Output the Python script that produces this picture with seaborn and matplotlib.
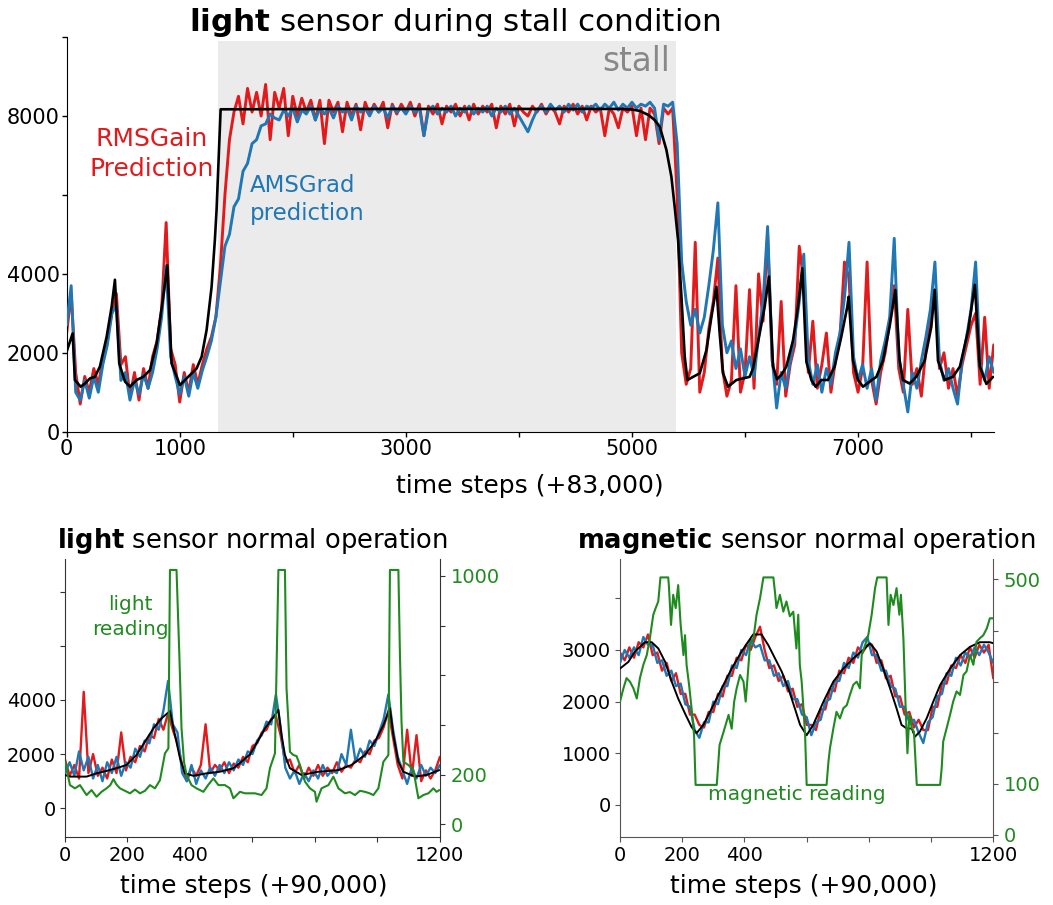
import numpy as np
import matplotlib
matplotlib.use("Agg")
import matplotlib.pyplot as plt
import seaborn as sns

sns.set_style("ticks")
plt.rcParams.update({
    "font.family": ["DejaVu Sans"],
    "text.color": "black",
    "axes.labelcolor": "black",
    "xtick.color": "black",
    "ytick.color": "black",
    "axes.edgecolor": "black",
    "mathtext.fontset": "dejavusans",
})

RED = "#e31a1c"
BLUE = "#1f77b4"
GREEN = "#1f8a1f"

# ---------------- top panel: light sensor during stall ----------------
top_step = 40
top_rmsgain = [
    2500, 3500, 1500, 700, 1400, 1000, 1600, 1200, 1800, 2400,
    3000, 3500, 1700, 1900, 900, 1500, 800, 1600, 1100, 1900,
    2300, 3100, 5300, 2100, 1700, 750, 1500, 1000, 1700, 1200,
    1700, 2100, 2400, 2900, 4200, 6000, 7400, 8100, 8500, 7800,
    8700, 8100, 8600, 8000, 8800, 7400, 8600, 8200, 8700, 7500,
    8500, 8000, 8450, 8100, 8400, 7900, 8400, 7300, 8400, 8100,
    8350, 7600, 8350, 8000, 8300, 7650, 8350, 8050, 8300, 8100,
    8350, 7700, 8300, 8050, 8300, 8100, 8350, 8000, 8300, 7500,
    8250, 8050, 8300, 7800, 8250, 8100, 8300, 8000, 8250, 7900,
    8300, 8050, 8250, 8100, 8300, 7700, 8250, 8050, 8300, 7750,
    8250, 8100, 8000, 8250, 8100, 8300, 8050, 8250, 8100, 7800,
    8250, 8100, 8300, 8050, 8250, 7900, 8250, 8100, 8200, 7500,
    8200, 8050, 7700, 8200, 8100, 8250, 7500, 8200, 7400, 8200,
    8050, 7300, 8200, 8050, 8200, 6000, 2000, 1200, 1600, 4800,
    1000, 1500, 2600, 3300, 4400, 1600, 900, 1300, 3700, 1000,
    1500, 3600, 1100, 4000, 2800, 5000, 1800, 1200, 3300, 900,
    1700, 2200, 4700, 3800, 1500, 2800, 1100, 1700, 2500, 1000,
    1800, 2400, 4300, 3900, 1500, 1000, 1600, 4300, 1300, 700,
    1500, 2000, 2800, 3700, 1600, 1000, 3100, 1200, 1600, 900,
    2100, 2800, 3600, 1600, 2000, 1100, 1600, 900, 1700, 2200,
    2700, 3000, 1200, 2900, 1100, 2200,
]
top_amsgrad = [
    2700, 3700, 1000, 800, 1300, 850, 1400, 1000, 1700, 2200,
    3000, 3200, 1300, 1500, 800, 1300, 950, 1450, 1100, 1500,
    2100, 2900, 4200, 1900, 1400, 950, 1400, 900, 1500, 1100,
    1550, 1900, 2300, 2900, 3800, 4700, 5000, 5700, 5900, 6600,
    6800, 7300, 7400, 7750, 7800, 8050, 7950, 7900, 8150, 8000,
    8200, 7850, 8150, 8050, 8250, 7900, 8200, 8050, 8200, 7950,
    8250, 8100, 8200, 7900, 8250, 8100, 8200, 8000, 8250, 8100,
    8200, 7950, 8250, 8100, 8200, 8050, 8250, 8100, 8200, 7500,
    8150, 8250, 8050, 8200, 8100, 8250, 8000, 8200, 8100, 8250,
    8050, 8200, 8100, 8250, 8000, 8200, 8100, 8250, 8050, 8200,
    8000, 7800, 7600, 7900, 8150, 8250, 8100, 8300, 8150, 8250,
    8100, 8300, 8150, 8300, 8100, 8250, 8200, 8300, 8150, 8300,
    8200, 8350, 8150, 8300, 8200, 8350, 8200, 8300, 8250, 8350,
    8200, 7400, 8300, 8250, 8350, 7300, 4300, 3300, 2700, 3100,
    2500, 2900, 3700, 4600, 5800, 2700, 2000, 2300, 1600, 2100,
    1400, 1900, 1400, 2400, 3300, 5200, 1900, 600, 1500, 1100,
    1800, 2400, 3300, 4500, 1800, 1200, 1700, 1000, 1600, 1200,
    2000, 2500, 3400, 4800, 1900, 1300, 1700, 1100, 1600, 800,
    1800, 2300, 2900, 4900, 1900, 1200, 500, 1500, 1100, 1800,
    2400, 3100, 4300, 1800, 1300, 1600, 1100, 700, 1800, 2400,
    3100, 4300, 1700, 1300, 1900, 1500,
]
top_truth_t = [
    0, 53, 73, 124, 162, 206, 250, 294, 354, 398,
    427, 465, 516, 560, 619, 678, 737, 796, 854, 890,
    928, 1002, 1075, 1149, 1194, 1238, 1282, 1311, 1326, 1362,
    2500, 4900, 5000, 5069, 5150, 5200, 5246, 5305, 5349, 5378,
    5408, 5438, 5467, 5491, 5541, 5600, 5659, 5703, 5747, 5776,
    5806, 5850, 5924, 5982, 6041, 6071, 6130, 6174, 6212, 6248,
    6283, 6322, 6366, 6425, 6469, 6507, 6543, 6587, 6625, 6676,
    6734, 6793, 6852, 6905, 6917, 6955, 6999, 7044, 7103, 7162,
    7220, 7279, 7330, 7368, 7397, 7456, 7515, 7589, 7648, 7678,
    7707, 7766, 7839, 7901, 7974, 8033, 8077, 8135, 8194,
]
top_truth_v = [
    2030, 2490, 1310, 1140, 1220, 1350, 1390, 1650, 2410, 3170,
    3850, 1730, 1270, 1140, 1310, 1390, 1560, 2240, 3420, 4220,
    1730, 1180, 1390, 1600, 1900, 2580, 3670, 4860, 5620, 8170,
    8180, 8180, 8165, 8130, 8020, 7900, 7730, 7140, 6460, 5700,
    4860, 3420, 1900, 1310, 1390, 1480, 2070, 2910, 3670, 2490,
    1480, 1140, 1310, 1350, 1390, 1600, 2490, 3170, 3930, 1650,
    1330, 1440, 1650, 2320, 3170, 4140, 1770, 1310, 1140, 1310,
    1310, 1650, 2410, 3170, 3420, 1800, 1310, 1140, 1270, 1390,
    1800, 2660, 3590, 1800, 1310, 1220, 1390, 1800, 2660, 3590,
    1800, 1310, 1390, 1650, 2570, 3720, 1650, 1210, 1390,
]
stall_span = (1340, 5390)
top_xticks = [0, 1000, 2000, 3000, 4000, 5000, 6000, 7000, 8000]
top_xticklabels = ["0", "1000", "", "3000", "", "5000", "", "7000", ""]
top_yticks = [0, 2000, 4000, 6000, 8000, 10000]
top_yticklabels = ["0", "2000", "4000", "", "8000", ""]

# ---------------- bottom-left: light sensor normal operation ----------------
bottom_step = 15
light_rmsgain = [
    1800, 1200, 1600, 1100, 4300, 1300, 2000, 1200, 1500, 1100,
    1800, 1300, 2800, 1400, 1900, 1700, 2300, 2100, 2700, 2600,
    3300, 2900, 3500, 2900, 2400, 1600, 1000, 1500, 1200, 1600,
    3100, 1300, 1600, 1400, 1700, 1300, 1650, 1500, 1900, 1700,
    2300, 2400, 2800, 2900, 3300, 3400, 2700, 1700, 1800, 1300,
    1600, 1100, 1500, 1200, 1600, 1200, 1500, 1300, 1700, 1350,
    1600, 1500, 1800, 1700, 2100, 2000, 2500, 2600, 3000, 3600,
    2600, 1600, 1100, 2900, 1200, 2700, 1000, 1400, 1100, 1400, 1900,
]
light_amsgrad = [
    1300, 1700, 1200, 2100, 1400, 1900, 1100, 1600, 1000, 1700,
    1300, 1900, 1200, 1700, 1500, 2200, 1900, 2500, 2400, 3100,
    2900, 3600, 4700, 3100, 2800, 1300, 1000, 1600, 900, 1400,
    1100, 1500, 1200, 1600, 1300, 1700, 1400, 1800, 1600, 2100,
    2000, 2500, 2700, 3200, 3100, 4200, 3000, 1500, 1100, 1400,
    900, 1300, 1000, 1400, 1100, 1600, 1200, 1400, 1300, 2000,
    1600, 2900, 1700, 2200, 1900, 2500, 2300, 2800, 3300, 4200,
    2900, 1900, 1400, 900, 1500, 1100, 1600, 1200, 1500, 1300, 1600,
]
light_truth_t = [
    0, 16, 69, 101, 133, 165, 197, 229, 256, 283,
    309, 336, 352, 368, 384, 411, 453, 496, 539, 565,
    592, 608, 640, 672, 683, 693, 704, 720, 757, 811,
    875, 917, 960, 992, 1019, 1040, 1051, 1067, 1083, 1120,
    1157, 1198,
]
light_truth_v = [
    1230, 1170, 1170, 1290, 1380, 1480, 1600, 1970, 2460, 2950,
    3320, 3590, 2700, 1850, 1290, 1200, 1290, 1350, 1480, 1720,
    1990, 2300, 2950, 3450, 3630, 2700, 1970, 1480, 1230, 1350,
    1410, 1600, 1970, 2460, 3070, 3690, 2700, 1720, 1350, 1170,
    1230, 1410,
]
light_reading_t = [
    0, 16, 32, 48, 69, 85, 101, 117, 133, 145,
    155, 165, 176, 192, 208, 224, 240, 256, 272, 288,
    304, 320, 331, 336, 357, 366, 373, 381, 389, 405,
    421, 443, 459, 475, 491, 512, 528, 539, 560, 576,
    592, 608, 629, 645, 656, 672, 683, 704, 709, 715,
    720, 731, 741, 752, 768, 784, 800, 805, 821, 843,
    859, 875, 896, 912, 928, 944, 960, 975, 987, 1003,
    1019, 1035, 1040, 1067, 1072, 1077, 1083, 1099, 1115, 1131,
    1147, 1163, 1179, 1189, 1198,
]
light_reading_v = [
    252, 158, 145, 158, 118, 138, 111, 131, 145, 158,
    182, 160, 145, 135, 125, 140, 125, 135, 158, 145,
    178, 286, 306, 1024, 1024, 682, 387, 252, 199, 158,
    145, 131, 160, 185, 158, 158, 145, 105, 131, 125,
    125, 125, 118, 145, 226, 286, 1024, 1024, 548, 413,
    292, 279, 275, 239, 172, 145, 131, 91, 145, 158,
    192, 145, 125, 130, 118, 135, 131, 125, 118, 145,
    252, 279, 1024, 1024, 682, 413, 252, 239, 219, 105,
    118, 125, 145, 131, 138,
]
light_yticks = [0, 2000, 4000, 6000, 8000]
light_yticklabels = ["0", "2000", "4000", "", ""]
light_rticks = [0, 200, 400, 600, 800, 1000]
light_rticklabels = ["0", "200", "", "", "", "1000"]

# ---------------- bottom-right: magnetic sensor normal operation ----------------
mag_rmsgain = [
    2950, 2800, 3050, 2850, 3150, 3050, 3300, 2900, 2950, 2600,
    2750, 2400, 2550, 2150, 2150, 1750, 1750, 1550, 1500, 1800,
    1800, 2150, 2100, 2500, 2500, 2850, 2800, 3100, 3000, 3250,
    3450, 3000, 2650, 2700, 2400, 2500, 2200, 2250, 1900, 1950,
    1550, 1550, 1450, 1850, 1850, 2250, 2200, 2600, 2550, 2850,
    2750, 3050, 2950, 3100, 3100, 2750, 2800, 2450, 2500, 2100,
    2100, 1750, 1800, 1500, 1650, 1450, 1450, 1900, 1900, 2350,
    2350, 2700, 2650, 2900, 2750, 3050, 2850, 3100, 2950, 3100, 2450,
]
mag_amsgrad = [
    2750, 3000, 2850, 3050, 2900, 3250, 3100, 3100, 2750, 2800,
    2500, 2600, 2300, 2350, 1950, 1900, 1450, 1300, 1600, 1600,
    2000, 1950, 2300, 2300, 2700, 2650, 3000, 2900, 3200, 3050,
    3100, 2800, 2800, 2500, 2550, 2300, 2400, 2050, 2050, 1750,
    1700, 1350, 1600, 1650, 2000, 2050, 2400, 2400, 2750, 2650,
    2950, 2850, 3150, 3250, 2900, 2900, 2600, 2600, 2300, 2250,
    1900, 1900, 1600, 1650, 1400, 1200, 1600, 1700, 2100, 2150,
    2550, 2500, 2850, 2700, 2950, 2850, 3050, 2900, 3100, 2950, 2750,
]
mag_truth_t = [
    0, 27, 48, 80, 102, 123, 145, 166, 187, 209,
    230, 246, 268, 295, 327, 359, 391, 412, 428, 455,
    477, 498, 520, 541, 562, 579, 600, 621, 654, 686,
    718, 750, 782, 804, 825, 846, 868, 889, 905, 922,
    938, 948, 964, 986, 1007, 1029, 1061, 1093, 1125, 1157,
    1189, 1200,
]
mag_truth_v = [
    2640, 2770, 2970, 3150, 3150, 3030, 2770, 2390, 2060, 1770,
    1510, 1390, 1550, 1870, 2260, 2640, 2970, 3160, 3300, 3300,
    3090, 2840, 2580, 2260, 1870, 1550, 1350, 1550, 2000, 2390,
    2640, 2840, 3000, 3130, 2970, 2640, 2260, 1870, 1550, 1480,
    1480, 1320, 1420, 1680, 2000, 2320, 2640, 2900, 3060, 3150,
    3150, 3130,
]
mag_reading_t = [
    0, 11, 21, 32, 43, 54, 64, 75, 86, 96,
    107, 114, 123, 130, 155, 157, 164, 171, 179, 187,
    195, 204, 209, 214, 222, 230, 238, 243, 311, 320,
    333, 349, 359, 367, 375, 386, 397, 404, 409, 418,
    429, 439, 450, 461, 493, 498, 503, 514, 525, 535,
    546, 557, 567, 573, 578, 584, 589, 595, 600, 664,
    670, 675, 686, 696, 707, 718, 729, 739, 750, 761,
    771, 777, 788, 798, 809, 820, 827, 857, 863, 870,
    879, 889, 898, 903, 911, 919, 924, 930, 938, 945,
    954, 1029, 1034, 1039, 1050, 1061, 1071, 1082, 1093, 1104,
    1114, 1125, 1136, 1146, 1157, 1168, 1179, 1189, 1200,
]
mag_reading_v = [
    261, 287, 307, 300, 287, 267, 307, 333, 352, 385,
    431, 443, 457, 504, 504, 489, 411, 470, 444, 489,
    411, 352, 391, 333, 294, 248, 196, 98, 98, 176,
    202, 235, 208, 261, 287, 313, 300, 261, 300, 372,
    385, 431, 463, 504, 504, 476, 444, 470, 437, 457,
    428, 437, 365, 431, 333, 300, 254, 196, 98, 98,
    143, 170, 209, 241, 228, 248, 254, 274, 294, 300,
    287, 352, 372, 391, 431, 483, 504, 504, 411, 470,
    450, 483, 431, 470, 385, 235, 160, 235, 209, 202,
    98, 98, 130, 183, 209, 235, 261, 281, 274, 313,
    320, 352, 333, 378, 385, 391, 404, 424, 424,
]
mag_yticks = [0, 1000, 2000, 3000, 4000]
mag_yticklabels = ["0", "1000", "2000", "3000", ""]
mag_rticks = [0, 100, 200, 300, 400, 500]
mag_rticklabels = ["0", "100", "", "", "", "500"]

bottom_xticks = [0, 200, 400, 600, 800, 1000, 1200]
bottom_xticklabels = ["0", "200", "400", "", "", "", "1200"]


def draw(ax, x, y, color, lw, z):
    sns.lineplot(x=np.asarray(x, dtype=float), y=np.asarray(y, dtype=float), ax=ax,
                 color=color, linewidth=lw, estimator=None, legend=False, zorder=z)


fig = plt.figure(figsize=(10.53, 9.05), dpi=100)

# ---- top ----
ax = fig.add_axes([0.0633, 0.523, 0.8804, 0.436])
ax.axvspan(stall_span[0], stall_span[1], ymin=0, ymax=0.99, color="#ebebeb", lw=0, zorder=0)
t_top = np.arange(len(top_rmsgain)) * top_step
draw(ax, t_top, top_rmsgain, RED, 2.1, 2)
draw(ax, t_top, top_amsgrad, BLUE, 2.1, 3)
draw(ax, top_truth_t, top_truth_v, "black", 1.9, 4)
ax.set_xlim(0, 8200)
ax.set_ylim(0, 10000)
ax.set_xticks(top_xticks)
ax.set_xticklabels(top_xticklabels)
ax.set_yticks(top_yticks)
ax.set_yticklabels(top_yticklabels)
ax.tick_params(labelsize=15, length=3.6, width=1.0, pad=1.5)
ax.set_xlabel("")
ax.set_ylabel("")
sns.despine(ax=ax)
ax.text(5340, 9370, "stall", ha="right", va="center", color="#888888", fontsize=23.5)
ax.text(754, 7037, "RMSGain\nPrediction", ha="center", va="center", color=RED,
        fontsize=18, linespacing=1.32)
ax.text(1621, 5885, "AMSGrad\nprediction", ha="left", va="center", color=BLUE,
        fontsize=16.5, linespacing=1.27)
fig.text(0.432, 0.9652, r"$\bf{light}$ sensor during stall condition",
         ha="center", va="baseline", fontsize=22.4)
fig.text(530 / 1053, (905 - 493) / 905, "time steps (+83,000)",
         ha="center", va="baseline", fontsize=18)

# ---- bottom panels ----
def bottom_panel(rect, red, blue, truth_t, truth_v, read_t, read_v, ylim, rlim,
                 yticks, yticklabels, rticks, rticklabels, spine_col):
    a = fig.add_axes(rect)
    b = a.twinx()
    tb = np.arange(len(red)) * bottom_step
    draw(a, tb, red, RED, 1.7, 2)
    draw(a, tb, blue, BLUE, 1.7, 3)
    draw(a, truth_t, truth_v, "black", 1.4, 4)
    draw(b, read_t, read_v, GREEN, 1.5, 5)
    a.set_xlim(0, 1200)
    a.set_ylim(*ylim)
    b.set_ylim(*rlim)
    a.set_xticks(bottom_xticks)
    a.set_xticklabels(bottom_xticklabels)
    a.set_yticks(yticks)
    a.set_yticklabels(yticklabels)
    b.set_yticks(rticks)
    b.set_yticklabels(rticklabels)
    for s in ("top", "right"):
        a.spines[s].set_visible(False)
    for s in ("top", "left", "bottom"):
        b.spines[s].set_visible(False)
    for s in ("left", "bottom"):
        a.spines[s].set_color(spine_col)
    b.spines["right"].set_color(spine_col)
    a.tick_params(labelsize=14, length=3.6, color=spine_col, pad=3)
    b.tick_params(axis="y", labelsize=14, length=3.6, color=spine_col,
                  labelcolor=GREEN, pad=4)
    for x in (a, b):
        x.set_xlabel("")
        x.set_ylabel("")
    return a, b


aL, bL = bottom_panel([0.0617, 0.0751, 0.3561, 0.3072], light_rmsgain, light_amsgrad,
                      light_truth_t, light_truth_v, light_reading_t, light_reading_v,
                      (-1060, 9200), (-51, 1068), light_yticks, light_yticklabels,
                      light_rticks, light_rticklabels, "#333333")
bL.text(208, 836, "light\nreading", color=GREEN, fontsize=14.5, ha="center",
        va="center", linespacing=1.4)

aR, bR = bottom_panel([0.5888, 0.0751, 0.3545, 0.3072], mag_rmsgain, mag_amsgrad,
                      mag_truth_t, mag_truth_v, mag_reading_t, mag_reading_v,
                      (-620, 4760), (-4, 540), mag_yticks, mag_yticklabels,
                      mag_rticks, mag_rticklabels, "#555555")
bR.text(569, 80, "magnetic reading", color=GREEN, fontsize=14.5, ha="center", va="center")

fig.text(252.5 / 1053, (905 - 548.3) / 905, r"$\bf{light}$ sensor normal operation",
         ha="center", va="baseline", fontsize=18.5)
fig.text(806.5 / 1053, (905 - 548.3) / 905, r"$\bf{magnetic}$ sensor normal operation",
         ha="center", va="baseline", fontsize=18.5)
fig.text(253.8 / 1053, (905 - 893) / 905, "time steps (+90,000)",
         ha="center", va="baseline", fontsize=18)
fig.text(804 / 1053, (905 - 893) / 905, "time steps (+90,000)",
         ha="center", va="baseline", fontsize=18)

fig.savefig("out.png", dpi=100)
